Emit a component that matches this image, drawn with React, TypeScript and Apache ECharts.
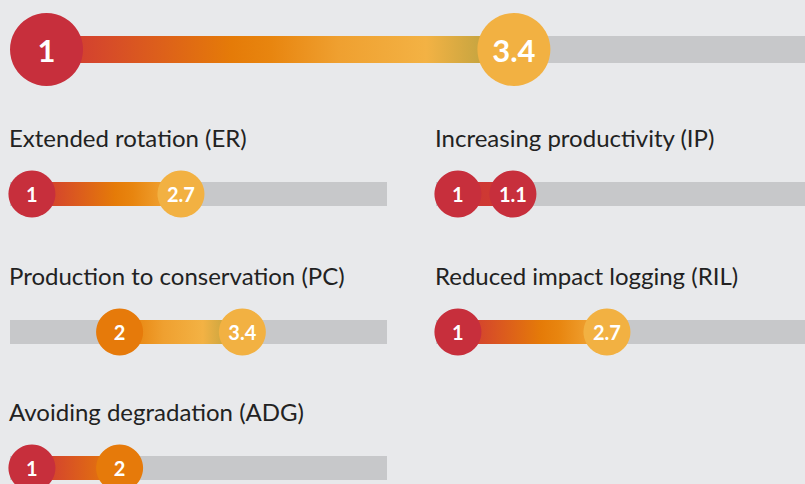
import React, { useEffect, useRef } from "react";
import * as echarts from "echarts";

// ---- data ----
const overallLow = [1];
const overallHigh = [3.4];
const practices = [
  "Extended rotation (ER)",
  "Increasing productivity (IP)",
  "Production to conservation (PC)",
  "Reduced impact logging (RIL)",
  "Avoiding degradation (ADG)",
];
const practiceLow = [1, 1, 2, 1, 1];
const practiceHigh = [2.7, 1.1, 3.4, 2.7, 2];

// ---- styling ----
const BG = "#e8e9eb";
const TRACK = "#c7c8ca";
const RED = "#c72f3c";
const ORANGE = "#e67a0a";
const YELLOW = "#f2b142";
const GRAD_KNOTS: [number, string][] = [
  [1.0, "#cc3535"],
  [1.2, "#d4432e"],
  [1.95, "#e57b08"],
  [2.15, "#e8850f"],
  [2.5, "#efa030"],
  [2.95, "#f3b244"],
  [3.25, "#c4a440"],
  [5.5, "#c4a440"],
];

function hexToRgb(h: string) {
  const n = parseInt(h.slice(1), 16);
  return [(n >> 16) & 255, (n >> 8) & 255, n & 255];
}
function gradColor(v: number) {
  if (v <= GRAD_KNOTS[0][0]) return GRAD_KNOTS[0][1];
  for (let i = 1; i < GRAD_KNOTS.length; i++) {
    const [v1, c1] = GRAD_KNOTS[i];
    const [v0, c0] = GRAD_KNOTS[i - 1];
    if (v <= v1) {
      const t = (v - v0) / (v1 - v0);
      const a = hexToRgb(c0);
      const b = hexToRgb(c1);
      const m = a.map((x, k) => Math.round(x + (b[k] - x) * t));
      return `rgb(${m[0]},${m[1]},${m[2]})`;
    }
  }
  return GRAD_KNOTS[GRAD_KNOTS.length - 1][1];
}
function circleColor(v: number) {
  if (v < 1.5) return RED;
  if (v < 2.35) return ORANGE;
  return YELLOW;
}
function gradStops(lo: number, hi: number) {
  if (hi - lo < 1e-9) return [{ offset: 0, color: gradColor(lo) }, { offset: 1, color: gradColor(hi) }];
  const stops = [{ offset: 0, color: gradColor(lo) }];
  GRAD_KNOTS.forEach(([v]) => {
    if (v > lo && v < hi) stops.push({ offset: (v - lo) / (hi - lo), color: gradColor(v) });
  });
  stops.push({ offset: 1, color: gradColor(hi) });
  return stops;
}

function makeRender(r: number, fontSize: number, gap: number) {
  return (params: any, api: any) => {
    const lo = api.value(0);
    const hi = api.value(1);
    const cs = params.coordSys;
    const yMid = cs.y + cs.height / 2;
    const p0 = api.coord([lo, 0.5])[0];
    let p1 = api.coord([hi, 0.5])[0];
    if (p1 - p0 < 2 * r + gap) p1 = p0 + 2 * r + gap;
    const trackStart = Math.max(cs.x, p0);
    const label = (v: number, x: number) => ({
      type: "text",
      x,
      y: yMid,
      style: {
        text: String(v),
        fill: "#ffffff",
        fontFamily: "Lato",
        fontWeight: "bold",
        fontSize,
        align: "center",
        verticalAlign: "middle",
      },
    });
    return {
      type: "group",
      children: [
        {
          type: "rect",
          shape: { x: cs.x, y: cs.y, width: cs.width, height: cs.height },
          style: { fill: TRACK },
        },
        {
          type: "rect",
          shape: { x: trackStart, y: cs.y, width: p1 - trackStart, height: cs.height },
          style: { fill: new echarts.graphic.LinearGradient(0, 0, 1, 0, gradStops(lo, hi)) },
        },
        { type: "circle", shape: { cx: p0, cy: yMid, r }, style: { fill: circleColor(lo) } },
        { type: "circle", shape: { cx: p1, cy: yMid, r }, style: { fill: circleColor(hi) } },
        label(lo, p0),
        label(hi, p1),
      ],
    };
  };
}

export default function App() {
  const ref = useRef<HTMLDivElement>(null);
  useEffect(() => {
    document.body.style.margin = "0";
    document.body.style.overflow = "hidden";
    const chart = echarts.init(ref.current!, undefined, { renderer: "svg" });

    const colLeft = [10, 436];
    const rowMid = [194, 332, 468];
    const grids: any[] = [{ left: 14, top: 36, width: 851, height: 27 }];
    const xAxes: any[] = [{ type: "value", gridIndex: 0, min: 0.833, max: 5.203, show: false }];
    const yAxes: any[] = [{ type: "value", gridIndex: 0, min: 0, max: 1, show: false }];
    const series: any[] = [
      {
        type: "custom",
        xAxisIndex: 0,
        yAxisIndex: 0,
        clip: false,
        renderItem: makeRender(36.5, 31, 8),
        data: [[overallLow[0], overallHigh[0]]],
      },
    ];
    const titles: any[] = [];
    practices.forEach((name, i) => {
      const col = i % 2;
      const row = Math.floor(i / 2);
      const mid = rowMid[row];
      const gi = i + 1;
      grids.push({ left: colLeft[col], top: mid - 12, width: 377, height: 24 });
      xAxes.push({ type: "value", gridIndex: gi, min: 0.75, max: 5.05, show: false });
      yAxes.push({ type: "value", gridIndex: gi, min: 0, max: 1, show: false });
      series.push({
        type: "custom",
        xAxisIndex: gi,
        yAxisIndex: gi,
        clip: false,
        renderItem: makeRender(23.5, 20, 8),
        data: [[practiceLow[i], practiceHigh[i]]],
      });
      titles.push({
        text: name,
        left: colLeft[col] - 1,
        top: mid - 69,
        padding: 0,
        textStyle: { fontFamily: "Lato", fontSize: 24, fontWeight: "normal", color: "#222222" },
      });
    });

    chart.setOption({
      animation: false,
      backgroundColor: BG,
      title: titles,
      grid: grids,
      xAxis: xAxes,
      yAxis: yAxes,
      series,
    });
    return () => chart.dispose();
  }, []);
  return (
    <div style={{ position: "fixed", left: 0, top: 0, width: 805, height: 484, overflow: "hidden", background: BG }}>
      <div ref={ref} style={{ width: 880, height: 484 }} />
    </div>
  );
}
